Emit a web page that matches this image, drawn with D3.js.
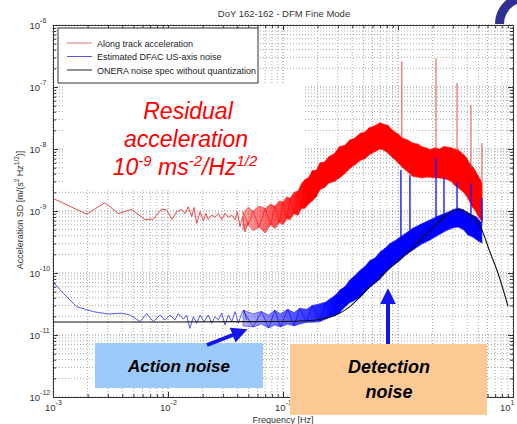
<!DOCTYPE html>
<html>
<head>
<meta charset="utf-8">
<script src="https://cdn.jsdelivr.net/npm/d3@7"></script>
<style>
body { margin: 0; background: #fff; }
svg { display: block; font-family: Arial, "Liberation Sans", sans-serif; }
</style>
</head>
<body>
<div id="chart"></div>
<script>
// along track acceleration, low frequency part (thin line)
var redLowF = [0.001, 0.00196, 0.00283, 0.0037, 0.00483, 0.0063, 0.00745, 0.0088, 0.00975, 0.0108,
  0.0119, 0.0132, 0.0141, 0.015, 0.0161, 0.0168, 0.0178, 0.019, 0.0203, 0.0214,
  0.0224, 0.024, 0.0256, 0.0274, 0.0293, 0.0313, 0.0335, 0.0358, 0.0383, 0.040,
  0.0423, 0.0446, 0.0468, 0.0499];
var redLowV = [1.6e-9, 0.89e-9, 1.36e-9, 0.91e-9, 1.06e-9, 0.73e-9, 0.74e-9, 1.07e-9, 1.04e-9, 0.73e-9,
  0.975e-9, 1.06e-9, 0.91e-9, 1.17e-9, 0.81e-9, 1.14e-9, 0.63e-9, 0.975e-9, 0.70e-9, 0.91e-9,
  0.73e-9, 0.86e-9, 0.79e-9, 0.91e-9, 0.73e-9, 0.91e-9, 0.79e-9, 0.86e-9, 0.72e-9, 0.975e-9,
  0.56e-9, 0.81e-9, 0.46e-9, 0.67e-9];

// along track acceleration, dense noisy part (upper / lower envelope)
var redBandF = [0.045, 0.05, 0.055, 0.062, 0.07, 0.078, 0.085, 0.093, 0.10, 0.108,
  0.115, 0.125, 0.135, 0.145, 0.155, 0.167, 0.18, 0.195, 0.21, 0.23,
  0.25, 0.28, 0.31, 0.345, 0.38, 0.42, 0.47, 0.52, 0.56, 0.63,
  0.70, 0.76, 0.82, 0.90, 1.0, 1.1, 1.22, 1.35, 1.5, 1.6,
  1.75, 1.9, 2.1, 2.3, 2.5, 2.7, 2.9, 3.1, 3.3, 3.5,
  3.7, 3.9, 4.2, 4.45, 4.7, 4.95, 5.2, 5.4];
var redBandHi = [0.95e-9, 1.15e-9, 1.0e-9, 1.2e-9, 1.1e-9, 1.3e-9, 1.2e-9, 1.45e-9, 1.4e-9, 1.7e-9,
  1.6e-9, 2.0e-9, 2.1e-9, 2.8e-9, 3.2e-9, 3.5e-9, 4.5e-9, 4.6e-9, 6.0e-9, 6.2e-9,
  7.5e-9, 8.5e-9, 1.1e-8, 1.15e-8, 1.4e-8, 1.5e-8, 1.8e-8, 1.9e-8, 2.2e-8, 2.4e-8,
  2.65e-8, 2.5e-8, 2.4e-8, 2.0e-8, 1.75e-8, 1.5e-8, 1.4e-8, 1.25e-8, 1.2e-8, 1.1e-8,
  1.05e-8, 9.8e-9, 1.05e-8, 1.0e-8, 1.1e-8, 1.08e-8, 1.05e-8, 1.0e-8, 9.8e-9, 9.0e-9,
  8.2e-9, 7.5e-9, 5.9e-9, 5.2e-9, 4.5e-9, 3.8e-9, 3.2e-9, 2.8e-9];
var redBandLo = [0.5e-9, 0.6e-9, 0.48e-9, 0.55e-9, 0.44e-9, 0.6e-9, 0.52e-9, 0.65e-9, 0.6e-9, 0.75e-9,
  0.72e-9, 0.9e-9, 0.85e-9, 1.1e-9, 1.1e-9, 1.3e-9, 1.45e-9, 1.7e-9, 2.2e-9, 2.4e-9,
  2.8e-9, 3.0e-9, 3.4e-9, 4.0e-9, 4.8e-9, 5.5e-9, 6.5e-9, 7.0e-9, 8.0e-9, 9.0e-9,
  1.0e-8, 9.5e-9, 8.5e-9, 7.2e-9, 6.0e-9, 5.0e-9, 4.2e-9, 3.6e-9, 3.5e-9, 3.4e-9,
  3.5e-9, 3.5e-9, 3.4e-9, 3.4e-9, 3.3e-9, 3.2e-9, 3.0e-9, 2.6e-9, 2.4e-9, 2.2e-9,
  2.0e-9, 1.8e-9, 1.4e-9, 1.15e-9, 1.0e-9, 0.85e-9, 0.72e-9, 0.7e-9];

// spectral lines
var redSpikeF = [1.08, 2.14, 3.26, 4.31, 5.37];
var redSpikeTop = [2.6e-7, 2.9e-7, 1.16e-7, 5.1e-8, 1.25e-8];
var redSpikeBase = [1.5e-8, 1.0e-8, 9.0e-9, 5.0e-9, 3.0e-9];

// estimated DFAC US-axis noise
var blueLowF = [0.001, 0.00123, 0.00161, 0.00224, 0.00303, 0.00346, 0.00395, 0.00468, 0.00571, 0.00653,
  0.00745, 0.00851, 0.0094, 0.0104, 0.0115, 0.0123, 0.0136, 0.0145, 0.0155, 0.0166,
  0.0178, 0.019, 0.0206, 0.0224, 0.024, 0.0256, 0.0274, 0.0293, 0.0313, 0.0335,
  0.0358, 0.0383, 0.0409, 0.0437, 0.0458, 0.0483];
var blueLowV = [7.2e-11, 4.7e-11, 2.86e-11, 2.38e-11, 2.18e-11, 2.22e-11, 2.25e-11, 2.1e-11, 1.64e-11, 2.22e-11,
  1.64e-11, 2.1e-11, 1.75e-11, 2.1e-11, 1.75e-11, 2.22e-11, 1.8e-11, 2.1e-11, 1.28e-11, 1.97e-11,
  1.55e-11, 2.1e-11, 1.64e-11, 2.1e-11, 1.55e-11, 1.97e-11, 1.75e-11, 2.25e-11, 1.45e-11, 2.1e-11,
  1.64e-11, 2.38e-11, 1.55e-11, 2.22e-11, 2.53e-11, 1.75e-11];

var blueBandF = [0.045, 0.055, 0.065, 0.075, 0.085, 0.095, 0.11, 0.125, 0.14, 0.16,
  0.18, 0.21, 0.235, 0.26, 0.29, 0.31, 0.345, 0.38, 0.42, 0.47,
  0.52, 0.57, 0.63, 0.70, 0.77, 0.85, 0.94, 1.04, 1.15, 1.35,
  1.6, 1.9, 2.2, 2.67, 3.0, 3.33, 3.7, 4.06, 4.45, 4.86,
  5.1, 5.37];
var blueBandHi = [2.5e-11, 2.2e-11, 2.4e-11, 2.1e-11, 2.5e-11, 2.2e-11, 2.6e-11, 2.3e-11, 2.7e-11, 2.6e-11,
  3.0e-11, 3.2e-11, 3.4e-11, 3.9e-11, 4.5e-11, 5.3e-11, 6.0e-11, 7.7e-11, 9.0e-11, 1.12e-10,
  1.3e-10, 1.6e-10, 1.75e-10, 2.2e-10, 2.5e-10, 3.0e-10, 3.3e-10, 3.8e-10, 4.3e-10, 5.3e-10,
  6.2e-10, 7.2e-10, 8.2e-10, 9.5e-10, 1.05e-9, 1.12e-9, 1.05e-9, 9.3e-10, 8.6e-10, 8.0e-10,
  7.0e-10, 6.4e-10];
var blueBandLo = [1.4e-11, 1.35e-11, 1.5e-11, 1.3e-11, 1.45e-11, 1.35e-11, 1.5e-11, 1.4e-11, 1.5e-11, 1.6e-11,
  1.6e-11, 1.65e-11, 1.8e-11, 1.95e-11, 2.1e-11, 2.3e-11, 2.8e-11, 3.3e-11, 3.6e-11, 4.1e-11,
  5.0e-11, 6.0e-11, 6.8e-11, 8.0e-11, 1.0e-10, 1.2e-10, 1.4e-10, 1.6e-10, 1.9e-10, 2.35e-10,
  2.9e-10, 3.4e-10, 4.0e-10, 4.9e-10, 5.3e-10, 5.5e-10, 5.0e-10, 4.1e-10, 3.8e-10, 3.4e-10,
  3.2e-10, 3.05e-10];

var blueSpikeF = [1.06, 1.27, 2.14, 2.51, 3.26, 4.31, 5.37];
var blueSpikeTop = [4.6e-9, 3.8e-9, 7.2e-9, 3.5e-9, 2.9e-9, 2.8e-9, 1.6e-9];
var blueSpikeBase = [3.8e-10, 4.8e-10, 8.0e-10, 9.0e-10, 1.1e-9, 8.6e-10, 6.4e-10];

// ONERA noise spec without quantization
var blackF = [0.001, 0.01, 0.1, 0.16, 0.21, 0.257, 0.313, 0.383, 0.468, 0.571,
  0.697, 0.851, 1.04, 1.35, 1.9, 2.67, 3.33, 4.06, 4.86, 5.37,
  6.3, 7.4, 9.05];
var blackV = [1.62e-11, 1.62e-11, 1.65e-11, 1.7e-11, 1.8e-11, 1.95e-11, 2.26e-11, 2.9e-11, 4.1e-11, 5.95e-11,
  8.4e-11, 1.2e-10, 1.65e-10, 2.6e-10, 4.9e-10, 8.6e-10, 1.07e-9, 9.3e-10, 6.7e-10, 4.9e-10,
  2.18e-10, 1.0e-10, 2.9e-11];

var legendLabels = ["Along track acceleration", "Estimated DFAC US-axis noise", "ONERA noise spec without quantization"];
var xMajors = [1e-3, 1e-2, 1e-1, 1e0, 1e1];
// the 10^0 label sits behind the "Detection noise" box, so it is not drawn
var xLabelTicks = [1e-3, 1e-2, 1e-1, 1e1];
var xExps = ["-3", "-2", "-1", "1"];
var yMajors = [1e-12, 1e-11, 1e-10, 1e-9, 1e-8, 1e-7, 1e-6];
var yExps = ["-12", "-11", "-10", "-9", "-8", "-7", "-6"];

var W = 517, H = 424;
var margin = {top: 25, right: 4, bottom: 27, left: 53};
var pw = W - margin.left - margin.right,
    ph = H - margin.top - margin.bottom;

var svg = d3.select("#chart").append("svg")
    .attr("width", W)
    .attr("height", H);

var x = d3.scaleLog().domain([1e-3, 1e1]).range([margin.left, margin.left + pw]);
var y = d3.scaleLog().domain([1e-12, 1e-6]).range([margin.top + ph, margin.top]);

var defs = svg.append("defs");
defs.append("clipPath").attr("id", "plotclip")
  .append("rect").attr("x", margin.left).attr("y", margin.top).attr("width", pw).attr("height", ph);

function fade(id, color, f0, f1, o0, o1) {
  var g = defs.append("linearGradient").attr("id", id)
    .attr("gradientUnits", "userSpaceOnUse")
    .attr("x1", x(f0)).attr("x2", x(f1)).attr("y1", 0).attr("y2", 0);
  g.append("stop").attr("offset", 0).attr("stop-color", color).attr("stop-opacity", o0);
  g.append("stop").attr("offset", 1).attr("stop-color", color).attr("stop-opacity", o1);
}
fade("redfade", "#ff0000", 0.045, 0.16, 0.35, 1);
fade("bluefade", "#0000ff", 0.045, 0.3, 0.3, 1);

// grid (major + minor, dotted)
var grid = svg.append("g").attr("class", "grid");
grid.selectAll("line.gx").data(x.ticks()).enter().append("line")
  .attr("x1", function(d) { return x(d); }).attr("x2", function(d) { return x(d); })
  .attr("y1", margin.top).attr("y2", margin.top + ph)
  .attr("stroke", function(d) { return xMajors.indexOf(d) >= 0 ? "#888" : "#aaa"; })
  .attr("stroke-dasharray", "1,2").attr("stroke-width", 1);
grid.selectAll("line.gy").data(y.ticks()).enter().append("line")
  .attr("y1", function(d) { return y(d); }).attr("y2", function(d) { return y(d); })
  .attr("x1", margin.left).attr("x2", margin.left + pw)
  .attr("stroke", function(d) { return yMajors.some(function(m) { return Math.abs(m - d) / m < 1e-6; }) ? "#888" : "#aaa"; })
  .attr("stroke-dasharray", "1,2").attr("stroke-width", 1);

// white area behind the big annotation text
svg.append("rect").attr("x", 65).attr("y", 85).attr("width", 240).attr("height", 105).attr("fill", "#fff");

var plot = svg.append("g").attr("clip-path", "url(#plotclip)");

var line = d3.line()
  .x(function(d) { return x(d[0]); })
  .y(function(d) { return y(d[1]); });

var area = d3.area()
  .x(function(d) { return x(d[0]); })
  .y0(function(d) { return y(d[1]); })
  .y1(function(d) { return y(d[2]); });

function zip2(f, v) { return f.map(function(d, i) { return [d, v[i]]; }); }
function zip3(f, lo, hi) { return f.map(function(d, i) { return [d, lo[i], hi[i]]; }); }
// zigzag through the envelope points to give the noisy texture
function zigzag(f, lo, hi) { return f.map(function(d, i) { return [d, i % 2 ? lo[i] : hi[i]]; }); }

// red: along track acceleration
plot.append("path").datum(zip2(redLowF, redLowV))
  .attr("d", line).attr("fill", "none").attr("stroke", "#e8383a").attr("stroke-width", 0.9);
plot.append("path").datum(zip3(redBandF, redBandLo, redBandHi))
  .attr("d", area).attr("fill", "url(#redfade)").attr("stroke", "#ff3030").attr("stroke-width", 0.6);
plot.append("path").datum(zigzag(redBandF, redBandLo, redBandHi))
  .attr("d", line).attr("fill", "none").attr("stroke", "#ff0000").attr("stroke-width", 0.6);
plot.selectAll("line.rs").data(redSpikeF).enter().append("line")
  .attr("x1", function(d) { return x(d); }).attr("x2", function(d) { return x(d); })
  .attr("y1", function(d, i) { return y(redSpikeBase[i]); })
  .attr("y2", function(d, i) { return y(redSpikeTop[i]); })
  .attr("stroke", "#e84848").attr("stroke-width", 1);

// blue: estimated DFAC noise
plot.append("path").datum(zip2(blueLowF, blueLowV))
  .attr("d", line).attr("fill", "none").attr("stroke", "#4444ee").attr("stroke-width", 0.9);
plot.append("path").datum(zip3(blueBandF, blueBandLo, blueBandHi))
  .attr("d", area).attr("fill", "url(#bluefade)").attr("stroke", "#3030ff").attr("stroke-width", 0.6);
plot.append("path").datum(zigzag(blueBandF, blueBandLo, blueBandHi))
  .attr("d", line).attr("fill", "none").attr("stroke", "#0000ff").attr("stroke-width", 0.6);
plot.selectAll("line.bs").data(blueSpikeF).enter().append("line")
  .attr("x1", function(d) { return x(d); }).attr("x2", function(d) { return x(d); })
  .attr("y1", function(d, i) { return y(blueSpikeBase[i]); })
  .attr("y2", function(d, i) { return y(blueSpikeTop[i]); })
  .attr("stroke", "#1a1aff").attr("stroke-width", 1.4);

// black: ONERA spec
plot.append("path").datum(zip2(blackF, blackV))
  .attr("d", line.curve(d3.curveMonotoneX)).attr("fill", "none").attr("stroke", "#111").attr("stroke-width", 1.1);
line.curve(d3.curveLinear);

// axes (ticks inside, MATLAB style)
var minorX = x.ticks().filter(function(d) { return xMajors.indexOf(d) < 0; });
var minorY = y.ticks().filter(function(d) { return !yMajors.some(function(m) { return Math.abs(m - d) / m < 1e-6; }); });

function drawAxis(axis, tr) {
  var g = svg.append("g").attr("transform", tr).call(axis);
  g.select(".domain").attr("stroke", "#333");
  g.selectAll(".tick line").attr("stroke", "#333");
  return g;
}
var b = "translate(0," + (margin.top + ph) + ")", t = "translate(0," + margin.top + ")",
    l = "translate(" + margin.left + ",0)", r = "translate(" + (margin.left + pw) + ",0)";
drawAxis(d3.axisBottom(x).tickValues(xMajors).tickSize(-5).tickFormat(""), b);
drawAxis(d3.axisBottom(x).tickValues(minorX).tickSize(-3).tickFormat(""), b);
drawAxis(d3.axisTop(x).tickValues(xMajors).tickSize(-5).tickFormat(""), t);
drawAxis(d3.axisTop(x).tickValues(minorX).tickSize(-3).tickFormat(""), t);
drawAxis(d3.axisLeft(y).tickValues(yMajors).tickSize(-5).tickFormat(""), l);
drawAxis(d3.axisLeft(y).tickValues(minorY).tickSize(-3).tickFormat(""), l);
drawAxis(d3.axisRight(y).tickValues(yMajors).tickSize(-5).tickFormat(""), r);
drawAxis(d3.axisRight(y).tickValues(minorY).tickSize(-3).tickFormat(""), r);

// tick labels 10^n
var labelColor = "#333";
xLabelTicks.forEach(function(d, i) {
  var lx = Math.min(x(d) - 8, W - 17);
  var tx = svg.append("text").attr("x", lx).attr("y", margin.top + ph + 13.5)
    .attr("font-size", 9.5).attr("fill", labelColor).text("10");
  tx.append("tspan").attr("dy", -6).attr("font-size", 7).text(xExps[i]);
});
yMajors.forEach(function(d, i) {
  var ty = svg.append("text").attr("x", 29.5).attr("y", y(d) + 4)
    .attr("font-size", 9.5).attr("fill", labelColor).text("10");
  ty.append("tspan").attr("dy", -6).attr("font-size", 7).text(yExps[i]);
});

// title and axis labels
svg.append("text").attr("x", 284).attr("y", 17).attr("text-anchor", "middle")
  .attr("font-size", 9.5).attr("fill", "#333").text("DoY 162-162 - DFM Fine Mode");
svg.append("text").attr("x", 283).attr("y", 422.5).attr("text-anchor", "middle")
  .attr("font-size", 9).attr("fill", "#333").text("Frequency [Hz]");
var yl = svg.append("text").attr("transform", "translate(23,210) rotate(-90)")
  .attr("text-anchor", "middle").attr("font-size", 9).attr("fill", "#333");
yl.append("tspan").text("Acceleration SD [m/(s");
yl.append("tspan").attr("dy", -4).attr("font-size", 6.5).text("2");
yl.append("tspan").attr("dy", 4).text(" Hz");
yl.append("tspan").attr("dy", -4).attr("font-size", 6.5).text("1/2");
yl.append("tspan").attr("dy", 4).text(")]");

// legend
var lg = svg.append("g");
lg.append("rect").attr("x", 58).attr("y", 28).attr("width", 200).attr("height", 55)
  .attr("fill", "#fff").attr("stroke", "#333").attr("stroke-width", 1);
var legendColors = ["#e07070", "#5555dd", "#222"];
legendLabels.forEach(function(s, i) {
  var ly = 43 + i * 13.5;
  lg.append("line").attr("x1", 67).attr("x2", 92).attr("y1", ly).attr("y2", ly)
    .attr("stroke", legendColors[i]).attr("stroke-width", 1);
  lg.append("text").attr("x", 97).attr("y", ly + 3.5).attr("font-size", 9).attr("fill", "#222").text(s);
});

// big red annotation
var red = "#ff0000";
svg.append("text").attr("x", 188).attr("y", 119).attr("text-anchor", "middle")
  .attr("font-size", 23).attr("font-style", "italic").attr("fill", red).text("Residual");
svg.append("text").attr("x", 186).attr("y", 147).attr("text-anchor", "middle")
  .attr("font-size", 23).attr("font-style", "italic").attr("fill", red).text("acceleration");
var ut = svg.append("text").attr("x", 185).attr("y", 175).attr("text-anchor", "middle")
  .attr("font-size", 23).attr("font-style", "italic").attr("fill", red);
ut.append("tspan").text("10");
ut.append("tspan").attr("dy", -9).attr("font-size", 15).text("-9");
ut.append("tspan").attr("dy", 9).text(" ms");
ut.append("tspan").attr("dy", -9).attr("font-size", 15).text("-2");
ut.append("tspan").attr("dy", 9).text("/Hz");
ut.append("tspan").attr("dy", -9).attr("font-size", 15).text("1/2");

// noise boxes
svg.append("rect").attr("x", 95).attr("y", 343).attr("width", 168).attr("height", 45).attr("fill", "#9ccbfb");
svg.append("text").attr("x", 179).attr("y", 372).attr("text-anchor", "middle")
  .attr("font-size", 17).attr("font-weight", "bold").attr("font-style", "italic").attr("fill", "#000")
  .text("Action noise");
svg.append("rect").attr("x", 290).attr("y", 344).attr("width", 197).attr("height", 71).attr("fill", "#fdca96");
svg.append("text").attr("x", 389).attr("y", 373).attr("text-anchor", "middle")
  .attr("font-size", 18).attr("font-weight", "bold").attr("font-style", "italic").attr("fill", "#000")
  .text("Detection");
svg.append("text").attr("x", 389).attr("y", 398).attr("text-anchor", "middle")
  .attr("font-size", 18).attr("font-weight", "bold").attr("font-style", "italic").attr("fill", "#000")
  .text("noise");

// arrows
defs.append("marker").attr("id", "head").attr("viewBox", "0 0 10 10")
  .attr("refX", 7).attr("refY", 5).attr("markerWidth", 4).attr("markerHeight", 4)
  .attr("orient", "auto").attr("markerUnits", "strokeWidth")
  .append("path").attr("d", "M0,0L10,5L0,10z").attr("fill", "#1414f0");
svg.append("line").attr("x1", 207).attr("y1", 345).attr("x2", 243).attr("y2", 331)
  .attr("stroke", "#1414f0").attr("stroke-width", 4).attr("marker-end", "url(#head)");
svg.append("line").attr("x1", 388).attr("y1", 344).attr("x2", 388).attr("y2", 293)
  .attr("stroke", "#1414f0").attr("stroke-width", 4).attr("marker-end", "url(#head)");

// logo fragment in the corner
svg.append("path").attr("transform", "translate(526,24)")
  .attr("d", d3.arc().innerRadius(22).outerRadius(31).startAngle(-Math.PI / 2).endAngle(0.3)())
  .attr("fill", "#2e3192");
</script>
</body>
</html>
